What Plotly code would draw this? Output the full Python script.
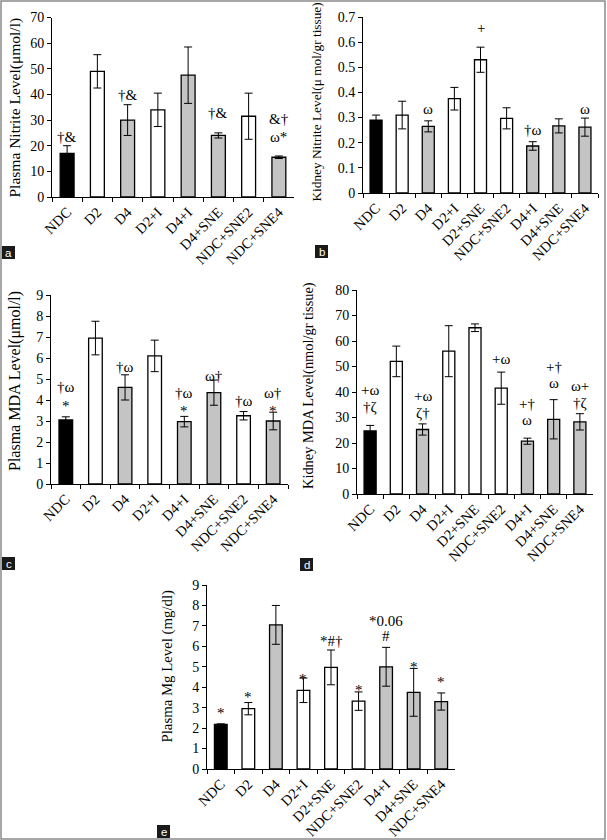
import plotly.graph_objects as go

W, H = 607, 840

# ---------------- data ----------------
cats_a = ["NDC", "D2", "D4", "D2+I", "D4+I", "D4+SNE", "NDC+SNE2", "NDC+SNE4"]
vals_a = [17, 49, 30, 34, 47.5, 24, 31.5, 15.5]
errs_a = [3, 6.5, 6, 6.5, 11, 1, 9, 0.5]
ann_a_cat = ["NDC", "D4", "D4+SNE", "NDC+SNE4", "NDC+SNE4"]
ann_a_y = [23.5, 39.8, 32.9, 30.5, 23.5]
ann_a_txt = ["†&", "†&", "†&", "&†", "ω*"]

cats_b = ["NDC", "D2", "D4", "D2+I", "D2+SNE", "NDC+SNE2", "D4+I", "D4+SNE", "NDC+SNE4"]
vals_b = [0.29, 0.31, 0.265, 0.375, 0.53, 0.297, 0.187, 0.267, 0.262]
errs_b = [0.02, 0.055, 0.022, 0.045, 0.05, 0.042, 0.017, 0.028, 0.036]
ann_b_cat = ["D2+SNE", "D4", "D4+I", "NDC+SNE4"]
ann_b_y = [0.655, 0.335, 0.25, 0.335]
ann_b_txt = ["+", "ω", "†ω", "ω"]

cats_c = ["NDC", "D2", "D4", "D2+I", "D4+I", "D4+SNE", "NDC+SNE2", "NDC+SNE4"]
vals_c = [3.05, 6.95, 4.6, 6.1, 2.97, 4.35, 3.25, 3.0]
errs_c = [0.15, 0.8, 0.6, 0.75, 0.25, 0.6, 0.2, 0.42]
ann_c_cat = ["NDC", "NDC", "D4", "D4+I", "D4+I", "D4+SNE", "NDC+SNE2", "NDC+SNE4", "NDC+SNE4"]
ann_c_y = [4.6, 3.92, 5.56, 4.32, 3.68, 5.16, 3.95, 4.34, 3.68]
ann_c_txt = ["†ω", "*", "†ω", "†ω", "*", "ω†", "†ω", "ω†", "*"]

cats_d = ["NDC", "D2", "D4", "D2+I", "D2+SNE", "NDC+SNE2", "D4+I", "D4+SNE", "NDC+SNE4"]
vals_d = [24.7, 52, 25.3, 56, 65.2, 41.5, 20.7, 29.3, 28.3]
errs_d = [2.2, 6, 2.2, 10, 1.5, 6.3, 1.2, 7.7, 3.2]
ann_d_cat = ["NDC", "NDC", "D4", "D4", "NDC+SNE2", "D4+I", "D4+I", "D4+SNE", "D4+SNE",
             "NDC+SNE4", "NDC+SNE4"]
ann_d_y = [40.8, 34.2, 38.4, 31.9, 52.9, 35.3, 29, 49.7, 43.6, 42.4, 35.5]
ann_d_txt = ["+ω", "†ζ", "+ω", "ζ†", "+ω", "+†", "ω", "+†", "ω", "ω+", "†ζ"]

cats_e = ["NDC", "D2", "D4", "D2+I", "D2+SNE", "NDC+SNE2", "D4+I", "D4+SNE", "NDC+SNE4"]
vals_e = [2.18, 2.95, 7.05, 3.85, 4.97, 3.32, 5.0, 3.75, 3.3]
errs_e = [0.03, 0.3, 0.95, 0.6, 0.85, 0.45, 0.95, 1.17, 0.42]
ann_e_cat = ["NDC", "D2", "D2+I", "D2+SNE", "NDC+SNE2", "D4+I", "D4+I", "D4+SNE", "NDC+SNE4"]
ann_e_y = [2.92, 3.7, 4.6, 6.28, 4.06, 7.26, 6.5, 5.2, 4.44]
ann_e_txt = ["*", "*", "*", "*#†", "*", "*0.06", "#", "*", "*"]

ytitles = ["Plasma Nitrite Level(μmol/l)", "Kidney Nitrite Level(μ mol/gr tissue)",
           "Plasma MDA Level(μmol/l)", "Kidney MDA Level(nmol/gr tissue)",
           "Plasma Mg Level (mg/dl)"]
panel_letters = ["a", "b", "c", "d", "e"]

# ---------------- style ----------------
GRAY = "#c4c4c4"
color_of = {"NDC": "black", "D2": "white", "D2+I": "white", "D2+SNE": "white",
            "NDC+SNE2": "white", "D4": GRAY, "D4+I": GRAY, "D4+SNE": GRAY,
            "NDC+SNE4": GRAY}
SERIF = "Liberation Serif"

# pixel boxes (x0, x1, ytop, ybottom)
boxes = [(52, 294, 17.5, 197), (363, 598, 17, 193), (51, 288, 295, 484),
         (357, 593, 290, 494), (207, 455, 585, 769)]
ranges = [[0, 70], [0, 0.7], [0, 9], [0, 80], [0, 9]]
dticks = [10, 0.1, 1, 10, 1]
# y-title centre (px) and font size
title_pos = [(15, 107.5), (316, 102.5), (15, 381), (309, 386), (167, 666.5)]
tsizes = [15.5, 13.3, 16, 14.4, 14.8]
label_boxes = [(2, 246), (315, 245), (2, 557), (300, 558), (157, 825)]

panels = [(cats_a, vals_a, errs_a, ann_a_cat, ann_a_y, ann_a_txt),
          (cats_b, vals_b, errs_b, ann_b_cat, ann_b_y, ann_b_txt),
          (cats_c, vals_c, errs_c, ann_c_cat, ann_c_y, ann_c_txt),
          (cats_d, vals_d, errs_d, ann_d_cat, ann_d_y, ann_d_txt),
          (cats_e, vals_e, errs_e, ann_e_cat, ann_e_y, ann_e_txt)]

fig = go.Figure()
annotations = []
shapes = []
layout = {}

for i, (cats, vals, errs, acat, ay, atxt) in enumerate(panels):
    n = i + 1
    xa = "x" if n == 1 else f"x{n}"
    ya = "y" if n == 1 else f"y{n}"
    fig.add_trace(go.Bar(
        x=cats, y=vals, xaxis=xa, yaxis=ya,
        marker=dict(color=[color_of[c] for c in cats],
                    line=dict(color="black", width=1.3)),
        width=0.46,
        error_y=dict(type="data", array=errs, color="black", thickness=1, width=4),
        showlegend=False, hoverinfo="skip"))
    x0, x1, yt, yb = boxes[i]
    xkey = "xaxis" if n == 1 else f"xaxis{n}"
    ykey = "yaxis" if n == 1 else f"yaxis{n}"
    layout[xkey] = dict(domain=[x0 / W, x1 / W], anchor=ya, type="category",
                        automargin=False,
                        showline=True, linecolor="black", linewidth=1,
                        ticks="outside", ticklen=4, tickcolor="black",
                        tickson="boundaries", tickangle=-45, showgrid=False,
                        tickfont=dict(family=SERIF, size=14.5, color="black"),
                        fixedrange=True)
    layout[ykey] = dict(domain=[1 - yb / H, 1 - yt / H], anchor=xa, range=ranges[i],
                        automargin=False,
                        dtick=dticks[i], showline=True, linecolor="black", linewidth=1,
                        ticks="outside", ticklen=4, tickcolor="black", showgrid=False,
                        zeroline=False,
                        tickfont=dict(family=SERIF, size=14, color="black"),
                        fixedrange=True)
    tx, ty = title_pos[i]
    annotations.append(dict(x=tx / W, y=1 - ty / H, xref="paper", yref="paper",
                            text=ytitles[i], textangle=-90, showarrow=False,
                            font=dict(family=SERIF, size=tsizes[i], color="black"),
                            xanchor="center", yanchor="middle"))
    for c, yv, t in zip(acat, ay, atxt):
        annotations.append(dict(x=c, y=yv, xref=xa, yref=ya, text=t, showarrow=False,
                                font=dict(family=SERIF, size=15, color="black"),
                                yshift=-4 if t == "*" else 0,
                                xanchor="center", yanchor="middle"))
    lx, ly = label_boxes[i]
    shapes.append(dict(type="rect", xref="paper", yref="paper",
                       x0=lx / W, x1=(lx + 13) / W, y0=1 - (ly + 13) / H, y1=1 - ly / H,
                       fillcolor="#1a1a1a", line=dict(width=0)))
    annotations.append(dict(x=(lx + 6.5) / W, y=1 - (ly + 6.5) / H, xref="paper",
                            yref="paper", text=panel_letters[i], showarrow=False,
                            font=dict(family="Liberation Sans", size=11.5, color="white"),
                            xanchor="center", yanchor="middle"))

shapes.append(dict(type="rect", xref="paper", yref="paper", x0=1 / W, x1=(W - 2) / W,
                   y0=1 / H, y1=1 - 1 / H, line=dict(color="#8a8a8a", width=1.5)))

fig.update_layout(width=W, height=H, margin=dict(l=0, r=0, t=0, b=0, autoexpand=False),
                  paper_bgcolor="white", plot_bgcolor="white",
                  annotations=annotations, shapes=shapes, bargap=0.5, **layout)

fig.write_html("out.html", config={"displayModeBar": False},
               post_script="document.body.style.margin='0';"
                           "document.body.style.padding='0';"
                           "document.body.style.overflow='hidden';")
